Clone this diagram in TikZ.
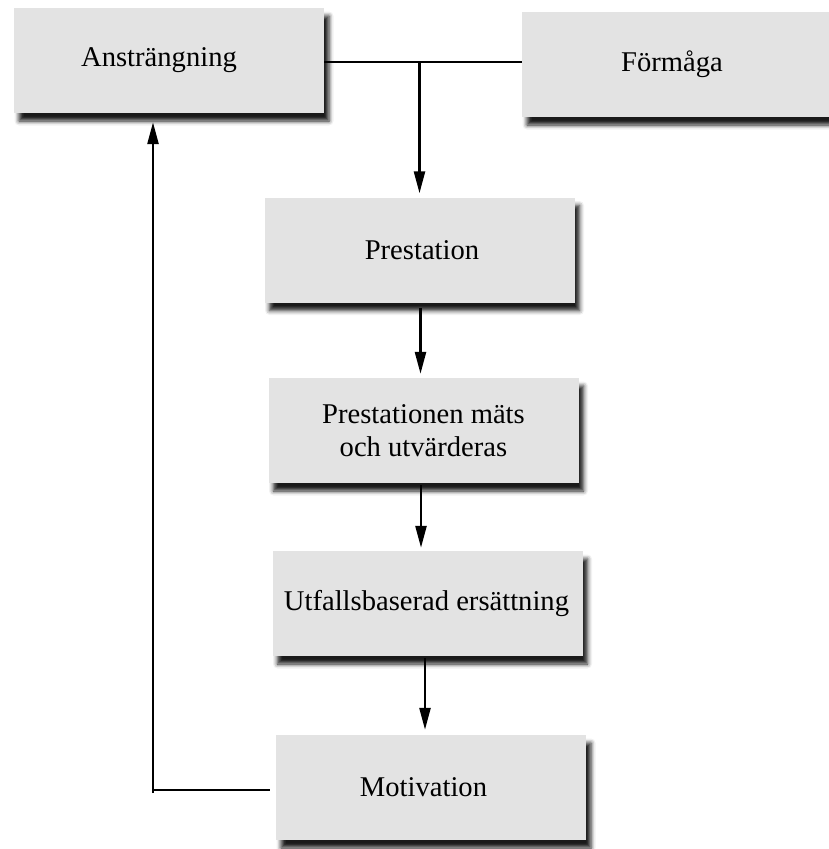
\documentclass[tikz,border=0pt]{standalone}
\usepackage{fontspec}
\setmainfont{Liberation Serif}
\usetikzlibrary{arrows.meta,shadows.blur}
\definecolor{boxgray}{RGB}{227,227,227}
\begin{document}
\begin{tikzpicture}[x=1pt,y=-1pt,
  box/.style={rectangle, fill=boxgray, minimum width=310pt, minimum height=105pt,
    inner sep=0pt, align=center, font=\fontsize{28.6}{33}\selectfont,
    blur shadow={shadow xshift=5pt, shadow yshift=-8pt,
      shadow blur radius=4.5pt, shadow opacity=90}},
  link/.style={line width=2.5pt, black},
  arrow/.style={link, -{Triangle[length=22pt,width=11pt]}}]
\useasboundingbox (0,0) rectangle (829,849);

% boxes (a trailing or leading kern nudges the label off centre)
\node[box] (anstr) at (169,60.5) {\raisebox{-2pt}{Ansträngning}\kern20pt};
\node[box] (form)  at (677,64.5) {\raisebox{-2pt}{Förmåga}\kern10pt};
\node[box] (prest) at (419.5,250) {\kern5pt\raisebox{-2pt}{Prestation}};
\node[box] (mats)  at (423.5,430.5) {Prestationen mäts\\och utvärderas};
\node[box] (utf)   at (427.5,603.5) {Utfallsbaserad ersättning\kern2pt};
\node[box] (motiv) at (431,787.5) {\raisebox{1pt}{Motivation}\kern15pt};

% effort and ability combine into performance
\coordinate (join) at (419.5,62);
\draw[link] (join -| anstr.east) -- (join -| form.west);
\draw[arrow, shorten >=4pt] (join) -- (prest.north);

% main chain
\draw[arrow, shorten <=5pt, shorten >=4pt] ([xshift=1pt]prest.south) -- ([xshift=1pt]prest.south |- mats.north);
\draw[arrow, shorten <=2pt, shorten >=3pt] ([xshift=-2.5pt]mats.south) -- ([xshift=-2.5pt]mats.south |- utf.north);
\draw[arrow, shorten <=2pt, shorten >=5pt] ([xshift=-2.5pt]utf.south) -- ([xshift=-2.5pt]utf.south |- motiv.north);

% feedback from motivation to effort
\coordinate (fb) at (153,790);
\draw[link] ([xshift=-6pt]fb -| motiv.west) -- (fb);
\draw[arrow, shorten >=9pt] ([yshift=-3pt]fb) -- (fb |- anstr.south);
\end{tikzpicture}
\end{document}
